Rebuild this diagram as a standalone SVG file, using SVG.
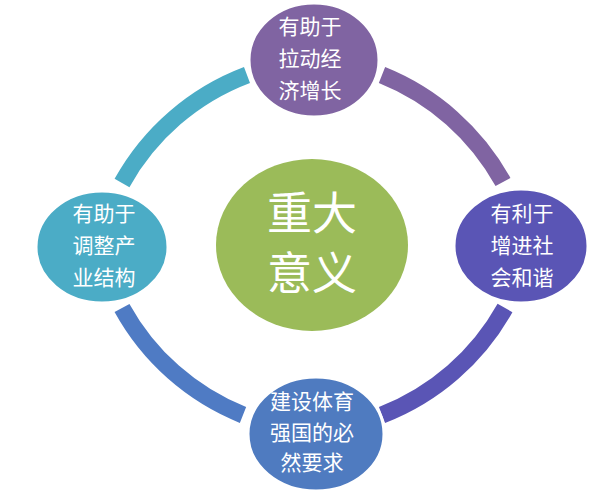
<svg xmlns="http://www.w3.org/2000/svg" width="596" height="490" viewBox="0 0 596 490">
<style>
.arc{fill:none;stroke-width:17;stroke-linecap:butt}
.node{stroke:#ffffff;stroke-width:3}
.t{font-family:"Noto Sans CJK SC","Noto Sans",sans-serif;fill:#ffffff;text-anchor:middle}
.s{font-size:21px}
.b{font-size:45px}
</style>
<rect width="596" height="490" fill="#ffffff"/>
<g id="connectors">
<path class="arc" stroke="#4BACC6" d="M122,183 A240,240 0 0 1 247,75"/>
<path class="arc" stroke="#8064A2" d="M382,75 A240,240 0 0 1 503,182"/>
<path class="arc" stroke="#5A55B5" d="M505,308 A240,240 0 0 1 382,415"/>
<path class="arc" stroke="#4F7BC4" d="M243,415 A240,240 0 0 1 122,308"/>
</g>
<g id="center">
<ellipse cx="312" cy="245" rx="96" ry="86" fill="#9BBB59"/>
<text class="t b" x="312" y="230">重大</text>
<text class="t b" x="312" y="290">意义</text>
</g>
<g id="top">
<ellipse class="node" cx="314" cy="60" rx="65" ry="57" fill="#8064A2"/>
<text class="t s" x="310" y="34">有助于</text>
<text class="t s" x="310" y="66">拉动经</text>
<text class="t s" x="310" y="98">济增长</text>
</g>
<g id="right">
<ellipse class="node" cx="521" cy="246" rx="67" ry="57" fill="#5A55B5"/>
<text class="t s" x="522" y="221">有利于</text>
<text class="t s" x="522" y="253">增进社</text>
<text class="t s" x="522" y="285">会和谐</text>
</g>
<g id="bottom">
<ellipse class="node" cx="316" cy="434" rx="68" ry="57" fill="#4F7BC0"/>
<text class="t s" x="312" y="409">建设体育</text>
<text class="t s" x="312" y="440">强国的必</text>
<text class="t s" x="312" y="470">然要求</text>
</g>
<g id="left">
<ellipse class="node" cx="102" cy="247" rx="66" ry="56" fill="#4BACC6"/>
<text class="t s" x="104" y="221">有助于</text>
<text class="t s" x="104" y="253">调整产</text>
<text class="t s" x="104" y="285">业结构</text>
</g>
</svg>
